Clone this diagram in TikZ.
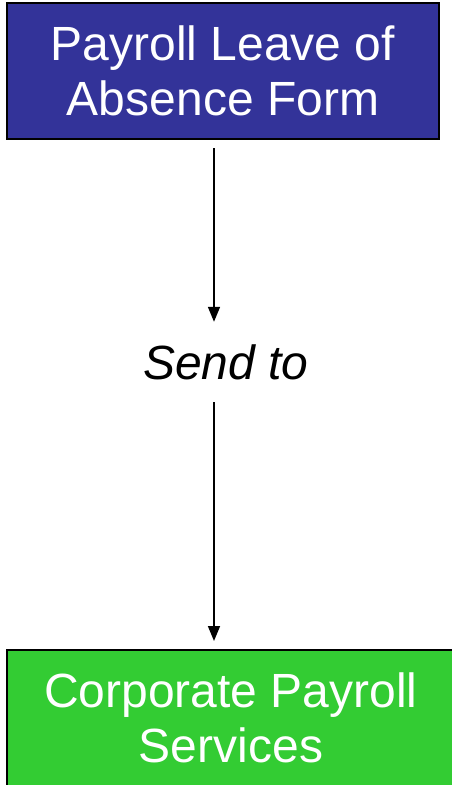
\documentclass[tikz,border=0pt]{standalone}
\usepackage{fontspec}
\setmainfont{Liberation Sans}
\usepackage{xcolor}
\usetikzlibrary{arrows.meta, positioning}

\definecolor{formblue}{HTML}{333399}
\definecolor{payrollgreen}{HTML}{33CC33}

\begin{document}
\begin{tikzpicture}[
        x=1pt, y=-1pt,
        >={Triangle[length=15pt, width=12pt]},
        % Style for the two coloured boxes
        bigbox/.style={rectangle, draw=black, line width=2pt, minimum width=432pt, minimum height=136pt,
            inner sep=0pt, text=white, align=center, font=\fontsize{48}{55}\selectfont},
        % Style for the label between the arrows
        sendlabel/.style={inner sep=0pt, minimum height=80pt, font=\fontsize{48}{55}\selectfont\itshape},
        % Style for the arrows
        flow/.style={->, line width=1.6pt}
    ]
    \useasboundingbox (0,0) rectangle (452,785);

    % --- Boxes and label ---
    \node[bigbox, fill=formblue] (form) at (223,71) {Payroll Leave of\\Absence Form};
    \node[sendlabel] (send) at (226,362) {Send to};
    \node[bigbox, fill=payrollgreen, minimum width=448pt] (cps) at (231,718) {Corporate Payroll\\Services};

    % --- Arrows ---
    \coordinate (axis) at (214,0);
    \coordinate (formfoot) at ([yshift=-8pt]form.south);
    \coordinate (cpshead) at ([yshift=8pt]cps.north);
    \draw[flow] (formfoot -| axis) -- (send.north -| axis);
    \draw[flow] (send.south -| axis) -- (cpshead -| axis);

\end{tikzpicture}
\end{document}
